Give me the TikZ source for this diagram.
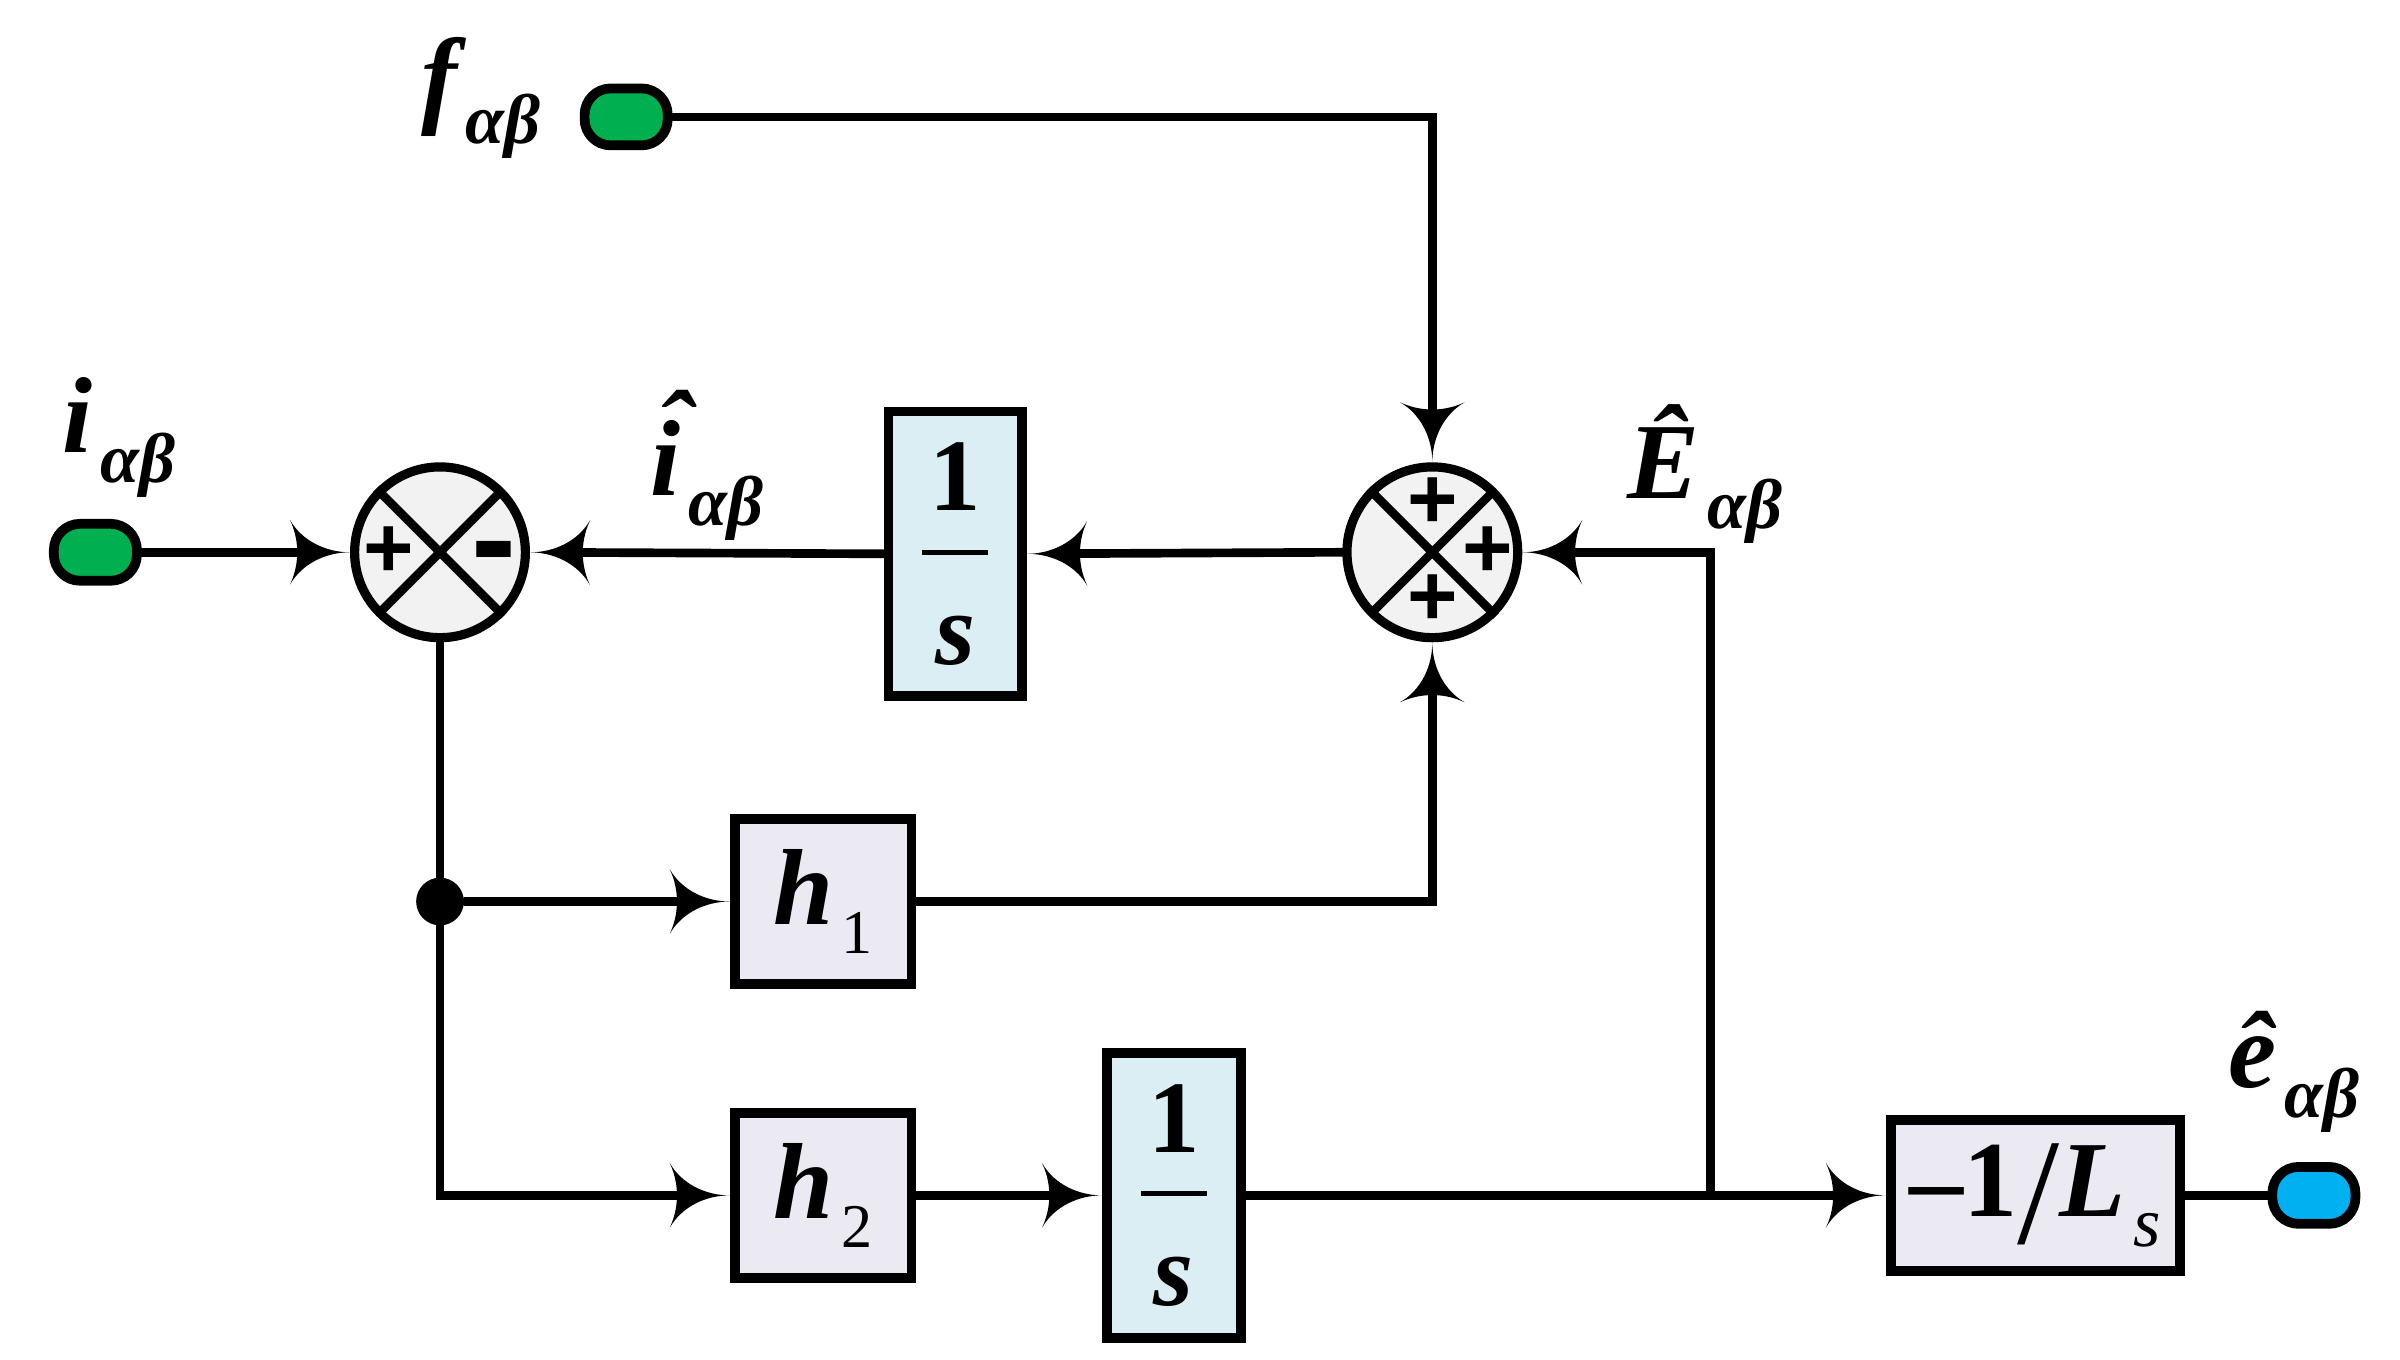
\documentclass[tikz,border=0pt]{standalone}
\usepackage{fontspec}
\setmainfont{Liberation Serif}
\newfontfamily\signfont{Liberation Sans}
\usetikzlibrary{arrows.meta}

\definecolor{portgreen}{HTML}{00B050}
\definecolor{portblue}{HTML}{00B0F0}
\definecolor{intblue}{HTML}{DAEEF3}
\definecolor{gainlav}{HTML}{EBE9F1}
\definecolor{sumgray}{HTML}{F2F2F2}

% curved barb arrow
\pgfdeclarearrow{
  name = Cusp,
  parameters = {\the\pgfarrowlength,\the\pgfarrowwidth},
  setup code = {
    \pgfarrowssettipend{0pt}
    \pgfarrowssetbackend{-\pgfarrowlength}
    \pgfarrowssetlineend{-0.8\pgfarrowlength}
    \pgfarrowssetvisualbackend{-0.88\pgfarrowlength}
    \pgfarrowssavethe\pgfarrowlength
    \pgfarrowssavethe\pgfarrowwidth
  },
  drawing code = {
    \pgfpathmoveto{\pgfqpoint{0pt}{0pt}}
    \pgfpathcurveto{\pgfqpoint{-0.4\pgfarrowlength}{0pt}}{\pgfqpoint{-0.8\pgfarrowlength}{0.175\pgfarrowwidth}}{\pgfqpoint{-\pgfarrowlength}{0.5\pgfarrowwidth}}
    \pgfpathcurveto{\pgfqpoint{-0.9\pgfarrowlength}{0.3\pgfarrowwidth}}{\pgfqpoint{-0.88\pgfarrowlength}{0.125\pgfarrowwidth}}{\pgfqpoint{-0.88\pgfarrowlength}{0pt}}
    \pgfpathcurveto{\pgfqpoint{-0.88\pgfarrowlength}{-0.125\pgfarrowwidth}}{\pgfqpoint{-0.9\pgfarrowlength}{-0.3\pgfarrowwidth}}{\pgfqpoint{-\pgfarrowlength}{-0.5\pgfarrowwidth}}
    \pgfpathcurveto{\pgfqpoint{-0.8\pgfarrowlength}{-0.175\pgfarrowwidth}}{\pgfqpoint{-0.4\pgfarrowlength}{0pt}}{\pgfqpoint{0pt}{0pt}}
    \pgfpathclose
    \pgfusepathqfill
  },
  defaults = {length = 3.9mm, width = 4.2mm}
}

\newcommand{\lowidx}[2][13]{\hspace{1.5pt}\raisebox{-5.5pt}{\fontsize{#1}{#1}\selectfont #2}}
\newcommand{\dothat}[1]{\rlap{\hspace{0.06em}\raisebox{0.27em}{ˆ}}#1}
\newcommand{\fracs}{\textbf{1}\\\rule[6pt]{0.43cm}{0.9pt}\\\textbf{\textit{s}}}

\begin{document}
\begin{tikzpicture}[line cap=round, x=1.0cm, y=1.0cm,
  port/.style={draw, line width=1.8pt, rounded corners=0.17cm, minimum width=0.54cm, minimum height=0.37cm, inner sep=0pt},
  sumnode/.style={circle, draw, line width=1.7pt, fill=sumgray, minimum size=1.11cm, inner sep=0pt},
  intbox/.style={draw, line width=1.8pt, fill=intblue, minimum width=0.87cm, minimum height=1.85cm, inner sep=0pt, align=center, font=\fontsize{19}{14.2}\selectfont},
  gainbox/.style={draw, line width=1.8pt, fill=gainlav, minimum width=1.15cm, minimum height=1.07cm, inner sep=0pt, font=\fontsize{20}{22}\selectfont\bfseries},
  sign/.style={inner sep=0pt, font=\signfont\bfseries\fontsize{16}{16}\selectfont},
  lab/.style={inner sep=0pt, anchor=base west, font=\fontsize{20}{22}\selectfont\bfseries\itshape},
  wire/.style={line width=1.6pt},
  sig/.style={line width=1.6pt, -Cusp}]
\useasboundingbox (0,0) rectangle (15.6,8.84);

\node[port, fill=portgreen] (fport) at (4.07,8.08) {};
\node[port, fill=portgreen] (iport) at (0.62,5.25) {};
\node[sumnode] (sumL) at (2.86,5.25) {};
\node[sumnode] (sumR) at (9.31,5.25) {};
\node[intbox] (intup) at (6.21,5.24) {\fracs};
\node[gainbox] (hone) at (5.35,2.98) {\textit{h}\lowidx[11.5]{\mdseries 1}};
\node[gainbox] (htwo) at (5.35,1.07) {\textit{h}\lowidx[11.5]{\mdseries 2}};
\node[intbox] (intlow) at (7.63,1.07) {\fracs};
\node[gainbox, minimum width=1.88cm, minimum height=0.98cm] (gain) at (13.23,1.07)
  {–1\raisebox{-5pt}{\mdseries\fontsize{28}{28}\selectfont /}\textit{L}\lowidx{\mdseries\itshape s}};
\node[port, fill=portblue] (eport) at (15.04,1.07) {};
\node[circle, fill, inner sep=0pt, minimum size=0.31cm] (tap) at (sumL |- hone) {};
\coordinate (ejoin) at (11.12,1.07);

% signs in the summing junctions
\foreach \s in {sumL,sumR}
  \draw[line width=1.6pt, line cap=butt, shorten <=1.6pt, shorten >=1.6pt]
    (\s.north west) -- (\s.south east) (\s.north east) -- (\s.south west);
\node[sign] (sumLp) at ([xshift=-0.33cm]sumL.center) {+};
\node[sign, font=\signfont\bfseries\fontsize{25}{25}\selectfont] (sumLm) at ([xshift=0.35cm, yshift=-2pt]sumL.center) {-};
\node[sign] (sumRt) at ([yshift=0.32cm]sumR.center) {+};
\node[sign] (sumRr) at ([xshift=0.36cm]sumR.center) {+};
\node[sign] (sumRb) at ([yshift=-0.31cm]sumR.center) {+};

% labels
\node[lab] (flab) at (2.73,8.10) {f\lowidx{αβ}};
\node[lab] (ilab) at (0.40,5.90) {i\lowidx{αβ}};
\node[lab] (ihatlab) at (4.22,5.62) {\dothat{i}\lowidx{αβ}};
\node[lab] (Ehatlab) at (10.57,5.60) {Ê\lowidx{αβ}};
\node[lab] (ehatlab) at (14.48,1.77) {ê\lowidx{αβ}};

% connectors
\draw[sig] (fport.east) -| (sumR.north);
\draw[sig] (iport.east) -- (sumL.west);
\draw[sig] (intup.west) -- (sumL.east);
\draw[sig] (sumR.west) -- (intup.east);
\draw[sig] (ejoin) |- (sumR.east);
\draw[sig] (sumL.south) |- (htwo.west);
\draw[sig] (tap) -- (hone.west);
\draw[sig] (hone.east) -| (sumR.south);
\draw[sig] (htwo.east) -- (intlow.west);
\draw[sig] (intlow.east) -- (gain.west);
\draw[wire] (gain.east) -- (eport.west);
\end{tikzpicture}
\end{document}
